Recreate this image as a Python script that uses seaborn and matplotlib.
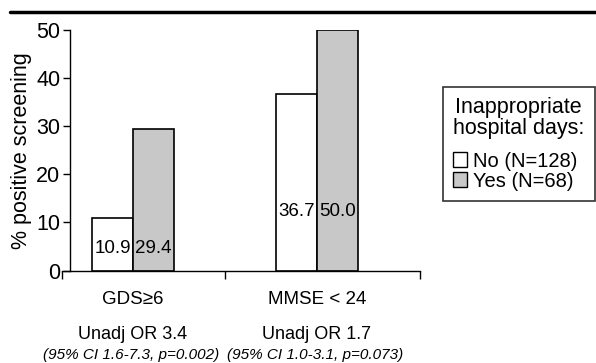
import numpy as np
import pandas as pd
import matplotlib.pyplot as plt
import seaborn as sns
from matplotlib.patches import Patch

measures = ["GDS≥6", "MMSE < 24"]
groups = ["No (N=128)", "Yes (N=68)"]
pct_no = [10.9, 36.7]
pct_yes = [29.4, 50.0]
or_lines = ["Unadj OR 3.4", "Unadj OR 1.7"]
ci_lines = ["(95% CI 1.6-7.3, p=0.002)", "(95% CI 1.0-3.1, p=0.073)"]
label_y = [4.5, 12.3]

df = pd.DataFrame({
    "measure": measures * 2,
    "group": [groups[0]] * 2 + [groups[1]] * 2,
    "pct": pct_no + pct_yes,
})

sns.set_style("ticks")
plt.rcParams["font.family"] = ["Liberation Sans", "DejaVu Sans"]
plt.rcParams.update({"text.color": "black", "axes.labelcolor": "black",
                     "xtick.color": "black", "ytick.color": "black"})
colors = ["white", "#c8c8c8"]

fig = plt.figure(figsize=(5.96, 3.63), dpi=100)
ax = fig.add_axes([0.104, 0.2548, 0.6007, 0.6625])
sns.barplot(data=df, x="measure", y="pct", hue="group", palette=colors,
            edgecolor="black", linewidth=1.2, width=0.446, ax=ax, legend=False)

ax.set_xlim(-0.386, 1.56)
ax.set_ylim(0, 50)
ax.set_yticks([0, 10, 20, 30, 40, 50])
ax.tick_params(axis="y", labelsize=15.5, length=5, width=1, pad=2)
ax.set_ylabel("% positive screening", fontsize=15.5, labelpad=3)
ax.set_xlabel("")

for s in ["top", "right"]:
    ax.spines[s].set_visible(False)
ax.spines["left"].set_position(("data", -0.342))
for s in ["left", "bottom"]:
    ax.spines[s].set_linewidth(1)
    ax.spines[s].set_color("black")

ax.set_xticks([0, 1])
ax.set_xticklabels(measures, fontsize=13.5)
ax.tick_params(axis="x", which="major", length=0, pad=15)
ax.set_xticks([-0.386, 0.5, 1.56], minor=True)
ax.tick_params(axis="x", which="minor", length=6, width=1)

w = 0.446 / 2
for i in range(2):
    ax.text(i - w / 2, label_y[i], f"{pct_no[i]:.1f}", ha="center", va="center", fontsize=13.5)
    ax.text(i + w / 2, label_y[i], f"{pct_yes[i]:.1f}", ha="center", va="center", fontsize=13.5)
    ax.text(i, -0.268, or_lines[i], transform=ax.get_xaxis_transform(),
            ha="center", va="center", fontsize=13)
    ax.text(i - 0.01, -0.353, ci_lines[i], transform=ax.get_xaxis_transform(),
            ha="center", va="center", fontsize=11, style="italic")

handles = [Patch(facecolor=c, edgecolor="black", linewidth=1) for c in colors]
leg = fig.legend(handles, groups, title="Inappropriate\nhospital days:",
                 loc="upper left", bbox_to_anchor=(443 / 596, 1 - 87 / 363),
                 fontsize=14.5, title_fontsize=15.5, frameon=True, fancybox=False,
                 edgecolor="black", handlelength=0.7, handleheight=0.7,
                 handletextpad=0.3, borderpad=0.5, labelspacing=0.05, borderaxespad=0)
leg.get_frame().set_linewidth(1.2)
leg.get_title().set_multialignment("center")
leg.get_title().set_linespacing(1.0)
leg._legend_box.sep = 9
leg._legend_box.align = "left"

fig.add_artist(plt.Line2D([10 / 596, 1], [1 - 12 / 363] * 2, color="black", linewidth=2.5))

fig.savefig("out.png", dpi=100)
